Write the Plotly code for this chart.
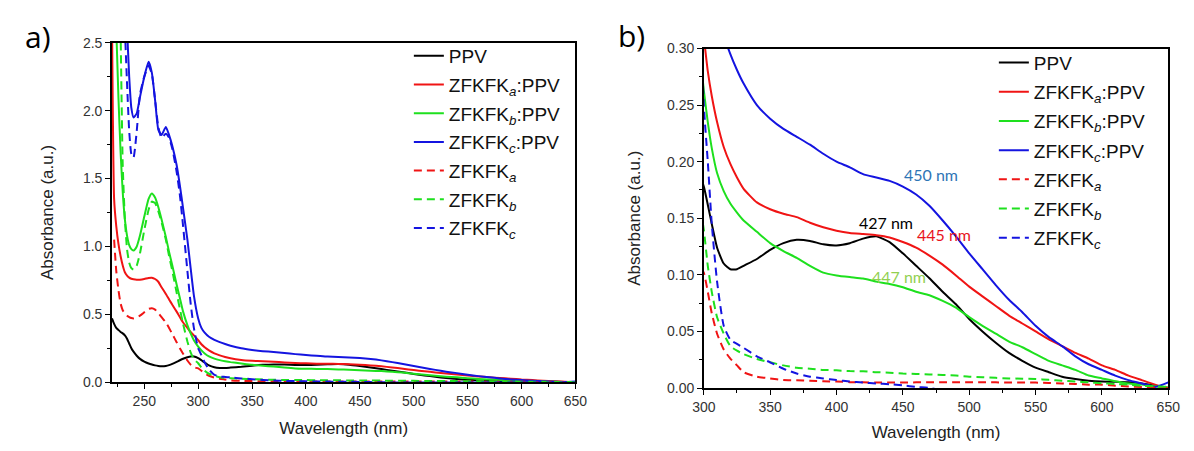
import plotly.graph_objects as go

# ---------------- data ----------------
wavelength = [220, 222, 224, 226, 228, 230, 232, 234, 236, 238,
              240, 243, 246, 250, 254, 257, 260, 263, 266, 270,
              273, 276, 280, 283, 286, 290, 293, 296, 300, 303,
              306, 310, 315, 320, 325, 330, 340, 350, 360, 370,
              380, 390, 400, 410, 420, 430, 440, 450, 460, 470,
              480, 490, 500, 510, 520, 530, 540, 550, 560, 570,
              580, 590, 600, 610, 620, 630, 640, 650]

ppv = [0.47, 0.43, 0.40, 0.385, 0.37, 0.36, 0.345, 0.32, 0.285, 0.25,
       0.225, 0.195, 0.172, 0.152, 0.138, 0.13, 0.124, 0.12, 0.118, 0.12,
       0.126, 0.135, 0.15, 0.162, 0.173, 0.184, 0.19, 0.19, 0.178, 0.162,
       0.145, 0.124, 0.11, 0.105, 0.105, 0.108, 0.114, 0.122, 0.128, 0.131,
       0.130, 0.127, 0.126, 0.128, 0.132, 0.134, 0.129, 0.119, 0.108, 0.097,
       0.085, 0.074, 0.061, 0.050, 0.040, 0.031, 0.024, 0.018, 0.014, 0.010,
       0.008, 0.0065, 0.0057, 0.0055, 0.005, 0.004, 0.002, 0.0]

zfkfk_a_ppv = [2.7, 1.35, 1.15, 1.02, 0.93, 0.86, 0.81, 0.785, 0.77, 0.762,
               0.758, 0.755, 0.755, 0.76, 0.768, 0.77, 0.76, 0.74, 0.70, 0.65,
               0.61, 0.57, 0.52, 0.48, 0.44, 0.40, 0.37, 0.345, 0.31, 0.28,
               0.258, 0.235, 0.213, 0.198, 0.186, 0.176, 0.164, 0.158, 0.154, 0.151,
               0.146, 0.142, 0.139, 0.137, 0.136, 0.135, 0.133, 0.129, 0.124, 0.117,
               0.109, 0.0995, 0.0896, 0.081, 0.0725, 0.064, 0.057, 0.050, 0.043, 0.037,
               0.031, 0.026, 0.020, 0.016, 0.011, 0.007, 0.003, 0.0]

zfkfk_b_ppv = [None, None, 2.6, 2.1, 1.7, 1.4, 1.2, 1.08, 1.01, 0.98,
               0.97, 1.0, 1.08, 1.22, 1.35, 1.39, 1.36, 1.29, 1.2, 1.07,
               0.96, 0.86, 0.72, 0.62, 0.52, 0.42, 0.36, 0.31, 0.263, 0.235,
               0.212, 0.19, 0.174, 0.163, 0.155, 0.148, 0.138, 0.128, 0.121, 0.115,
               0.108, 0.102, 0.0995, 0.098, 0.0967, 0.094, 0.092, 0.089, 0.085, 0.082,
               0.077, 0.071, 0.0626, 0.055, 0.048, 0.041, 0.036, 0.030, 0.024, 0.020,
               0.016, 0.011, 0.0085, 0.006, 0.004, 0.003, 0.0015, 0.0005]

zfkfk_c_ppv = [None, None, None, None, None, None, None, 2.6, 2.25, 2.02,
               1.95, 1.98, 2.1, 2.25, 2.36, 2.28, 2.08, 1.86, 1.82, 1.88,
               1.82, 1.74, 1.6, 1.45, 1.28, 1.05, 0.84, 0.64, 0.47, 0.40,
               0.365, 0.335, 0.312, 0.295, 0.281, 0.269, 0.250, 0.238, 0.229, 0.222,
               0.215, 0.207, 0.200, 0.195, 0.189, 0.186, 0.183, 0.178, 0.171, 0.161,
               0.148, 0.134, 0.119, 0.105, 0.091, 0.078, 0.067, 0.055, 0.045, 0.037,
               0.028, 0.021, 0.016, 0.011, 0.007, 0.004, 0.001, 0.005]

zfkfk_a = [None, 1.05, 0.82, 0.68, 0.58, 0.53, 0.505, 0.49, 0.48, 0.473,
           0.47, 0.475, 0.49, 0.515, 0.54, 0.545, 0.535, 0.51, 0.48, 0.44,
           0.40, 0.355, 0.295, 0.25, 0.21, 0.16, 0.13, 0.11, 0.102, 0.085,
           0.066, 0.048, 0.034, 0.026, 0.020, 0.014, 0.010, 0.0085, 0.007, 0.0068,
           0.0065, 0.006, 0.0057, 0.0052, 0.005, 0.0049, 0.0048, 0.0048, 0.005, 0.005,
           0.005, 0.005, 0.005, 0.005, 0.005, 0.0049, 0.0048, 0.0048, 0.0045, 0.004,
           0.0035, 0.003, 0.003, 0.002, 0.0014, 0.001, 0.0005, 0.0]

zfkfk_b = [None, None, None, None, 2.6, 1.6, 1.2, 0.98, 0.88, 0.84,
           0.83, 0.86, 0.95, 1.12, 1.27, 1.33, 1.32, 1.26, 1.18, 1.05,
           0.93, 0.82, 0.66, 0.54, 0.43, 0.30, 0.22, 0.17, 0.14, 0.108,
           0.085, 0.0625, 0.048, 0.037, 0.033, 0.030, 0.0256, 0.0227, 0.020, 0.018,
           0.017, 0.016, 0.0156, 0.015, 0.0148, 0.014, 0.0136, 0.0128, 0.0124, 0.012,
           0.0115, 0.011, 0.010, 0.0095, 0.009, 0.0085, 0.0082, 0.008, 0.0072, 0.0065,
           0.0057, 0.005, 0.0043, 0.0035, 0.003, 0.002, 0.0015, 0.001]

zfkfk_c = [None, None, None, None, None, None, 2.6, 2.2, 1.85, 1.68,
           1.655, 1.85, 2.12, 2.25, 2.33, 2.27, 2.08, 1.88, 1.8, 1.83,
           1.8, 1.72, 1.55, 1.38, 1.15, 0.82, 0.58, 0.40, 0.25, 0.20,
           0.145, 0.094, 0.055, 0.0426, 0.039, 0.0355, 0.028, 0.0227, 0.017, 0.0128,
           0.010, 0.0085, 0.007, 0.0057, 0.0048, 0.004, 0.0034, 0.0023, 0.0009, 0.0001,
           -0.002, -0.002, -0.002, -0.002, -0.002, -0.002, -0.002, -0.002, -0.002, -0.002,
           -0.002, -0.002, -0.002, -0.002, -0.002, -0.002, -0.002, -0.002]

series_names = ["PPV",
                "ZFKFK<sub><i>a</i></sub>:PPV",
                "ZFKFK<sub><i>b</i></sub>:PPV",
                "ZFKFK<sub><i>c</i></sub>:PPV",
                "ZFKFK<sub><i>a</i></sub>",
                "ZFKFK<sub><i>b</i></sub>",
                "ZFKFK<sub><i>c</i></sub>"]
series_values = [ppv, zfkfk_a_ppv, zfkfk_b_ppv, zfkfk_c_ppv, zfkfk_a, zfkfk_b, zfkfk_c]

peak_labels = ["450 nm", "427 nm", "445 nm", "447 nm"]
peak_x = [471, 437, 481, 447]
peak_y = [0.189, 0.1466, 0.1355, 0.0989]

for s in series_values:
    if len(s) != len(wavelength):
        raise ValueError("length mismatch %d" % len(s))

# ---------------- style ----------------
colors = ["#000000", "#f01414", "#1ee01e", "#1414e0", "#f01414", "#1ee01e", "#1414e0"]
dashes = ["solid", "solid", "solid", "solid", "8px,5px", "8px,5px", "8px,5px"]
peak_colors = ["#2e75b6", "#000000", "#e8141c", "#92d050"]
FONT = "Liberation Sans"
W, H = 1194, 451

fig = go.Figure()
for i, (name, vals) in enumerate(zip(series_names, series_values)):
    fig.add_trace(go.Scatter(
        x=wavelength, y=vals, name=name, mode="lines",
        line=dict(color=colors[i], width=2, dash=dashes[i], shape="spline", smoothing=0.5),
        xaxis="x", yaxis="y", legend="legend", legendgroup="L%d" % i))
for i, (name, vals) in enumerate(zip(series_names, series_values)):
    fig.add_trace(go.Scatter(
        x=wavelength, y=vals, name=name, mode="lines",
        line=dict(color=colors[i], width=2, dash=dashes[i], shape="spline", smoothing=0.5),
        xaxis="x2", yaxis="y2", legend="legend2", legendgroup="R%d" % i))

def px_x(p):
    return p / W

def px_y(p):
    return 1 - p / H

axis_common = dict(
    showline=True, linecolor="black", linewidth=1.5, mirror=True,
    ticks="outside", ticklen=5, tickwidth=1, tickcolor="black",
    showgrid=False, zeroline=False,
    tickfont=dict(family=FONT, size=14, color="#333333"),
    title_font=dict(family=FONT, size=17, color="#222222"),
)
minor_common = dict(ticks="outside", ticklen=3, tickcolor="black", tickwidth=1)

fig.update_layout(
    width=W, height=H, autosize=False,
    margin=dict(l=0, r=0, t=0, b=0),
    paper_bgcolor="white", plot_bgcolor="white",
    font=dict(family=FONT),
    xaxis=dict(domain=[px_x(102), px_x(575)], anchor="y", range=[220, 650],
               dtick=50, tick0=0, minor=dict(dtick=25, tick0=0, **minor_common),
               title=dict(text="Wavelength (nm)", standoff=14), **axis_common),
    yaxis=dict(domain=[px_y(388), px_y(36)], anchor="x", range=[0, 2.5],
               dtick=0.5, tickformat=".1f", minor=dict(dtick=0.25, tick0=0, **minor_common),
               title=dict(text="Absorbance (a.u.)", standoff=25), **axis_common),
    xaxis2=dict(domain=[px_x(706), px_x(1180)], anchor="y2", range=[300, 650],
                dtick=50, tick0=0, minor=dict(dtick=25, tick0=0, **minor_common),
                title=dict(text="Wavelength (nm)", standoff=13), **axis_common),
    yaxis2=dict(domain=[px_y(394), px_y(42)], anchor="x2", range=[0, 0.30],
                dtick=0.05, tickformat=".2f", minor=dict(dtick=0.025, tick0=0, **minor_common),
                title=dict(text="Absorbance (a.u.)", standoff=22), **axis_common),
    legend=dict(x=px_x(405), y=px_y(30), xanchor="left", yanchor="top",
                bgcolor="rgba(0,0,0,0)", borderwidth=0, tracegroupgap=1,
                font=dict(family=FONT, size=19, color="#111111")),
    legend2=dict(x=px_x(1002), y=px_y(37), xanchor="left", yanchor="top",
                 bgcolor="rgba(0,0,0,0)", borderwidth=0, tracegroupgap=1.5,
                 font=dict(family=FONT, size=19, color="#111111")),
    showlegend=True,
)

annotations = [
    dict(text="a)", x=px_x(27), y=px_y(30), xref="paper", yref="paper", showarrow=False,
         xanchor="center", yanchor="middle",
         font=dict(family="Open Sans", size=30, color="black")),
    dict(text="b)", x=px_x(632), y=px_y(29), xref="paper", yref="paper", showarrow=False,
         xanchor="center", yanchor="middle",
         font=dict(family="Open Sans", size=30, color="black")),
]
for t, xv, yv, c in zip(peak_labels, peak_x, peak_y, peak_colors):
    annotations.append(dict(text=t, x=xv, y=yv, xref="x2", yref="y2", showarrow=False,
                            xanchor="center", yanchor="middle",
                            font=dict(family="Lato", size=16, color=c)))
fig.update_layout(annotations=annotations)

fig.write_html("out.html")
